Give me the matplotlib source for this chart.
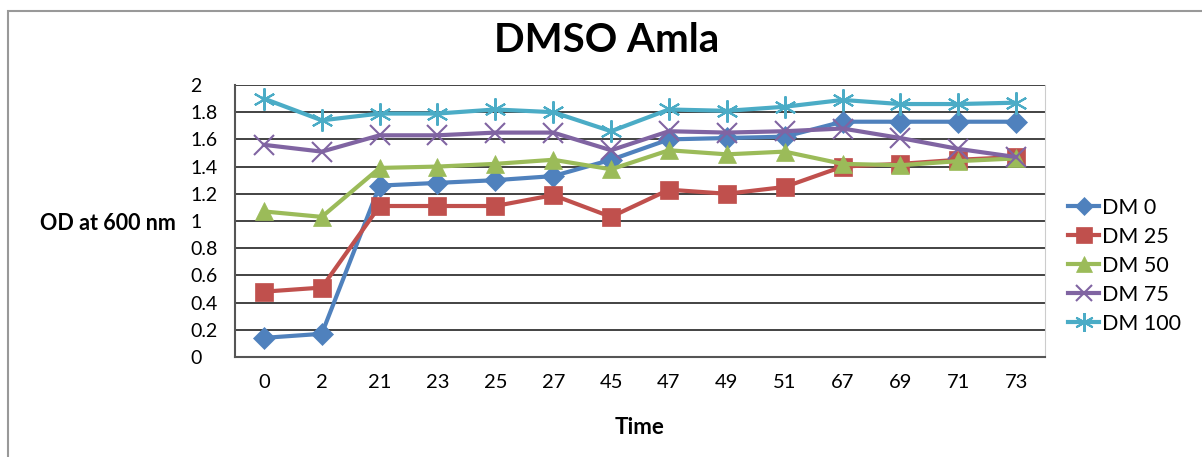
import matplotlib.pyplot as plt
from matplotlib.patches import Rectangle

# Time points (categories) and OD readings per DMSO concentration
tiempos = ["0", "2", "21", "23", "25", "27", "45", "47", "49", "51", "67", "69", "71", "73"]
dm0 = [0.14, 0.17, 1.26, 1.28, 1.30, 1.33, 1.45, 1.60, 1.61, 1.62, 1.73, 1.73, 1.73, 1.73]
dm25 = [0.48, 0.51, 1.11, 1.11, 1.11, 1.19, 1.03, 1.23, 1.20, 1.25, 1.40, 1.42, 1.45, 1.47]
dm50 = [1.07, 1.03, 1.39, 1.40, 1.42, 1.45, 1.38, 1.52, 1.49, 1.51, 1.42, 1.41, 1.44, 1.46]
dm75 = [1.56, 1.51, 1.63, 1.63, 1.65, 1.65, 1.52, 1.66, 1.65, 1.66, 1.68, 1.61, 1.53, 1.47]
dm100 = [1.90, 1.74, 1.79, 1.79, 1.82, 1.80, 1.66, 1.82, 1.81, 1.84, 1.89, 1.86, 1.86, 1.87]

series = [
    ("DM 0", dm0, "#4F81BD", "D", 11),
    ("DM 25", dm25, "#C0504D", "s", 13),
    ("DM 50", dm50, "#9BBB59", "^", 13),
    ("DM 75", dm75, "#8064A2", "x", 14),
    ("DM 100", dm100, "#4BACC6", (6, 2, 0), 16),
]

plt.rcParams['font.family'] = ['Lato', 'DejaVu Sans']

fig = plt.figure(figsize=(12.02, 4.57), dpi=100)
ax = fig.add_axes([0.1955, 0.219, 0.6739, 0.595])

x = list(range(len(tiempos)))
for nombre, vals, color, marker, ms in series:
    ax.plot(x, vals, color=color, lw=3, marker=marker, markersize=ms,
            markeredgewidth=1.5 if marker in ("x", (6, 2, 0)) else 0.5,
            markeredgecolor=color, label=nombre, zorder=3)

ax.set_xlim(-0.5, len(tiempos) - 0.5)
ax.set_ylim(0, 2)
ax.set_xticks(x)
ax.set_xticklabels(tiempos, fontsize=14.5)
yt = [i * 0.2 for i in range(11)]
ax.set_yticks(yt)
ax.set_yticklabels(["0", "0.2", "0.4", "0.6", "0.8", "1", "1.2", "1.4", "1.6", "1.8", "2"],
                   fontsize=14, ha="left")
ax.tick_params(axis="y", length=0, pad=32)
ax.tick_params(axis="x", length=0, pad=12)
ax.grid(axis="y", color="#222222", lw=1.2)
ax.set_axisbelow(True)
for s in ["left", "bottom"]:
    ax.spines[s].set_color("#555555")
    ax.spines[s].set_linewidth(1.5)
ax.spines["top"].set_visible(False)
ax.spines["right"].set_color("#cccccc")

fig.text(607 / 1202, 1 - 40 / 457, "DMSO Amla", fontsize=29, fontweight="bold",
         ha="center", va="center")
ax.set_xlabel("Time", fontsize=16, fontweight="bold", labelpad=19)
fig.text(108 / 1202, 1 - 224 / 457, "OD at 600 nm", fontsize=15.5, fontweight="bold",
         ha="center", va="center")

ax.legend(loc="center left", bbox_to_anchor=(1.005, 0.335), frameon=False,
          fontsize=15.5, handlelength=1.4, handletextpad=0.15, labelspacing=0.42,
          markerscale=0.85)

# outer chart border
fig.add_artist(Rectangle((8 / 1202, -0.1), 1.2, 1.1 - 11 / 457, transform=fig.transFigure,
                         fill=False, edgecolor="#999999", lw=1.5))

fig.savefig("out.png", dpi=100)
